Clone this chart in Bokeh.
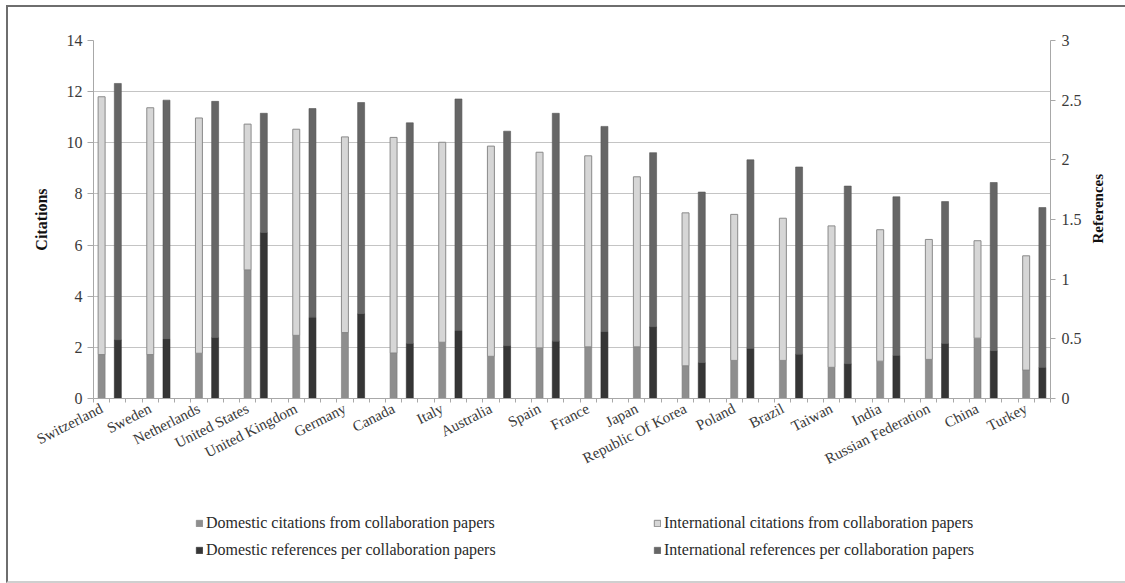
from bokeh.plotting import figure
from bokeh.layouts import column, row
from bokeh.models import (LinearAxis, Range1d, FixedTicker, SingleIntervalTicker,
                          Legend, LegendItem, ColumnDataSource, CustomJSTickFormatter)
from bokeh.core.properties import value
from bokeh.embed import file_html
from bokeh.resources import INLINE
import math

countries = ["Switzerland", "Sweden", "Netherlands", "United States", "United Kingdom",
             "Germany", "Canada", "Italy", "Australia", "Spain", "France", "Japan",
             "Republic Of Korea", "Poland", "Brazil", "Taiwan", "India",
             "Russian Federation", "China", "Turkey"]

dom_citations = [1.72, 1.72, 1.77, 5.03, 2.47, 2.58, 1.78, 2.20, 1.65, 1.98,
                 2.02, 2.02, 1.28, 1.49, 1.49, 1.22, 1.46, 1.53, 2.36, 1.11]
intl_citations = [10.08, 9.65, 9.20, 5.70, 8.06, 7.65, 8.43, 7.82, 8.22, 7.65,
                  7.47, 6.65, 5.98, 5.71, 5.56, 5.53, 5.14, 4.69, 3.81, 4.47]
dom_references = [0.49, 0.50, 0.51, 1.39, 0.68, 0.71, 0.46, 0.57, 0.44, 0.48,
                  0.56, 0.60, 0.30, 0.42, 0.37, 0.29, 0.36, 0.46, 0.40, 0.26]
intl_references = [2.15, 2.00, 1.98, 1.00, 1.75, 1.77, 1.85, 1.94, 1.80, 1.91,
                   1.72, 1.46, 1.43, 1.58, 1.57, 1.49, 1.33, 1.19, 1.41, 1.34]

legend_labels = ["Domestic citations from collaboration papers",
                 "Domestic references per collaboration papers",
                 "International citations from collaboration papers",
                 "International references per collaboration papers"]

FONT = "Liberation Serif"
C_DOM_CIT = "#8e8e8e"
C_INT_CIT = "#d6d6d6"
C_DOM_REF = "#363636"
C_INT_REF = "#666666"

n = len(countries)
x_cit = [3 * i for i in range(n)]
x_ref = [3 * i + 1 for i in range(n)]

src = ColumnDataSource(dict(
    x_cit=x_cit, x_ref=x_ref,
    dc0=[0] * n, dc1=dom_citations,
    ic0=dom_citations, ic1=[a + b for a, b in zip(dom_citations, intl_citations)],
    dr0=[0] * n, dr1=dom_references,
    ir0=dom_references, ir1=[a + b for a, b in zip(dom_references, intl_references)],
))

TOP, BOTTOM = 33, 95
p = figure(width=1082, height=486, x_range=Range1d(-0.5, 3 * n - 1.5), y_range=Range1d(0, 14),
           output_backend="svg", toolbar_location=None,
           min_border_left=85, min_border_right=40, min_border_top=TOP, min_border_bottom=BOTTOM)
p.extra_y_ranges = {"refs": Range1d(0, 3)}
p.outline_line_color = None
p.background_fill_color = "white"
p.border_fill_color = "white"

W = 0.43
bar_styles = [
    dict(fill_color=C_DOM_CIT, line_color="#7a7a7a", line_width=0.6),
    dict(fill_color=C_DOM_REF, line_color="#2a2a2a", line_width=0.6),
    dict(fill_color=C_INT_CIT, line_color="#8a8a8a", line_width=1),
    dict(fill_color=C_INT_REF, line_color="#555555", line_width=0.6),
]
p.vbar(x="x_cit", bottom="dc0", top="dc1", width=W, source=src, **bar_styles[0])
p.vbar(x="x_cit", bottom="ic0", top="ic1", width=W, source=src, **bar_styles[2])
p.vbar(x="x_ref", bottom="dr0", top="dr1", width=W, source=src, y_range_name="refs", **bar_styles[1])
p.vbar(x="x_ref", bottom="ir0", top="ir1", width=W, source=src, y_range_name="refs", **bar_styles[3])

AX = "#a8a8a8"
# x axis
xa = p.xaxis[0]
xa.ticker = FixedTicker(ticks=x_cit, minor_ticks=[k - 0.5 for k in range(0, 3 * n)])
xa.major_label_overrides = {3 * i: c for i, c in enumerate(countries)}
xa.major_label_orientation = 0.47
xa.major_tick_out = 0
xa.major_tick_in = 0
xa.minor_tick_out = 4
xa.minor_tick_in = 0
xa.minor_tick_line_color = AX
xa.axis_line_color = AX
xa.major_label_text_font = FONT
xa.major_label_text_font_size = "15px"
xa.major_label_text_color = "#3a3a3a"
xa.major_label_standoff = 5

# left axis
ya = p.yaxis[0]
ya.ticker = SingleIntervalTicker(interval=2)
ya.axis_label = "Citations"
ya.axis_label_text_font = FONT
ya.axis_label_text_font_style = "bold"
ya.axis_label_text_font_size = "16px"
ya.axis_label_text_color = "#111111"
ya.axis_label_standoff = 14
ya.major_label_text_font = FONT
ya.major_label_text_font_size = "16px"
ya.major_label_text_color = "#3a3a3a"
ya.major_tick_out = 6
ya.major_tick_in = 0
ya.minor_tick_out = 0
ya.minor_tick_in = 0
ya.major_tick_line_color = AX
ya.axis_line_color = AX
ya.major_label_standoff = 5

# right axis
ra = LinearAxis(y_range_name="refs", ticker=SingleIntervalTicker(interval=0.5),
                formatter=CustomJSTickFormatter(code="return String(Math.round(tick*10)/10);"))
ra.major_label_text_font = FONT
ra.major_label_text_font_size = "16px"
ra.major_label_text_color = "#3a3a3a"
ra.major_tick_out = 5
ra.major_tick_in = 0
ra.minor_tick_out = 0
ra.minor_tick_in = 0
ra.major_tick_line_color = AX
ra.axis_line_color = AX
ra.major_label_standoff = 6
p.add_layout(ra, "right")

p.xgrid.grid_line_color = None
p.ygrid.grid_line_color = "#c4c4c4"
p.ygrid.grid_line_width = 1

# narrow panel at the right holding the right-axis title (reads bottom-to-top)
p3 = figure(width=35, height=486, x_range=Range1d(0, 1), y_range=Range1d(0, 1),
            output_backend="svg", toolbar_location=None, x_axis_type=None, y_axis_type=None,
            min_border_left=0, min_border_right=0, min_border_top=TOP, min_border_bottom=BOTTOM)
p3.outline_line_color = None
p3.grid.grid_line_color = None
p3.text(x=[0.2], y=[0.53], text=["References"], angle=math.pi / 2,
        text_align="center", text_baseline="middle",
        text_font=value(FONT), text_font_style="bold", text_font_size="15px",
        text_color="#111111")

# legend panel below the chart (legend swatches only; the dummy glyphs hold no drawable data)
p2 = figure(width=1117, height=88, x_range=Range1d(0, 1), y_range=Range1d(0, 1),
            output_backend="svg", toolbar_location=None, x_axis_type=None, y_axis_type=None,
            min_border_left=85, min_border_right=75, min_border_top=0, min_border_bottom=0)
p2.outline_line_color = None
p2.grid.grid_line_color = None
items = []
for lab, st in zip(legend_labels, bar_styles):
    r = p2.vbar(x=[float("nan")], bottom=[float("nan")], top=[float("nan")], width=0.1, **st)
    items.append(LegendItem(label=lab, renderers=[r]))
legend = Legend(items=items, location=(102, 21), orientation="vertical", ncols=2)
legend.glyph_width = 8
legend.glyph_height = 8
legend.label_standoff = 3
legend.label_width = 440
legend.label_height = 20
legend.spacing = 7
legend.padding = 0
legend.margin = 0
legend.border_line_color = None
legend.background_fill_alpha = 0
legend.label_text_font = FONT
legend.label_text_font_size = "16px"
legend.label_text_color = "#2a2a2a"
p2.add_layout(legend, "center")

layout = column(row(p, p3, spacing=0), p2, spacing=0)
layout.styles = {"border-top": "2px solid #6e6e6e", "border-left": "2px solid #6e6e6e",
                 "border-bottom": "2px solid #cfcfcf", "margin-left": "6px", "margin-top": "5px"}
open("out.html", "w").write(file_html(layout, INLINE))
